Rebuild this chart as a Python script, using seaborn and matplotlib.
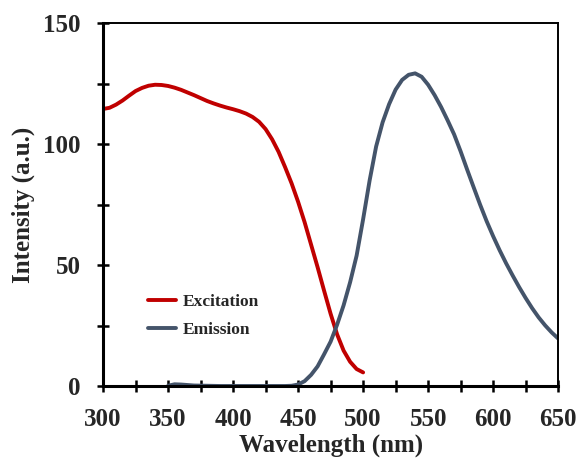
import numpy as np
import pandas as pd
import matplotlib
matplotlib.use("Agg")
import matplotlib.pyplot as plt
from matplotlib.ticker import MultipleLocator
import seaborn as sns

# --- values ---
exc_wl = [300, 305, 310, 315, 320, 325, 330, 335, 340, 345, 350, 355, 360, 365,
          370, 375, 380, 385, 390, 395, 400, 405, 410, 415, 420, 425, 430, 435,
          440, 445, 450, 455, 460, 465, 470, 475, 480, 485, 490, 495, 500]
exc_int = [114.5, 115.0, 116.3, 118.0, 120.0, 121.9, 123.2, 124.1, 124.5, 124.4,
           124.0, 123.3, 122.4, 121.3, 120.2, 119.0, 117.8, 116.8, 115.9, 115.1,
           114.4, 113.6, 112.6, 111.2, 109.2, 106.2, 102.0, 96.8, 90.5, 83.8,
           76.2, 67.8, 58.5, 49.2, 39.5, 30.0, 21.5, 14.8, 10.2, 7.2, 5.8]

em_wl = [350, 355, 360, 365, 370, 380, 390, 400, 410, 420, 430, 440,
         445, 450, 455, 460, 465, 470, 475, 480, 485, 490, 495, 500,
         505, 510, 515, 520, 525, 530, 535, 540, 545, 550, 555, 560,
         565, 570, 575, 580, 585, 590, 595, 600, 605, 610, 615, 620,
         625, 630, 635, 640, 645, 650]
em_int = [0.3, 0.9, 0.8, 0.6, 0.4, 0.3, 0.2, 0.2, 0.2, 0.2, 0.2, 0.2,
          0.3, 0.8, 2.2, 4.8, 8.3, 13.3, 18.5, 25.5, 33.5, 43.0, 54.0, 69.0,
          85.0, 99.0, 109.0, 116.5, 122.5, 126.5, 128.6, 129.2, 127.8, 124.5, 120.2, 115.3,
          109.8, 104.0, 97.0, 89.5, 82.2, 75.0, 68.2, 62.0, 56.2, 50.8, 45.8, 41.0,
          36.5, 32.3, 28.5, 25.2, 22.3, 19.8]

series_names = ["Excitation", "Emission"]
colors = {"Excitation": "#C00000", "Emission": "#44546A"}

df = pd.concat([
    pd.DataFrame({"wl": exc_wl, "val": exc_int, "series": "Excitation"}),
    pd.DataFrame({"wl": em_wl, "val": em_int, "series": "Emission"}),
])

sns.set_style("ticks")
plt.rcParams["font.family"] = ["Liberation Serif", "DejaVu Serif"]
plt.rcParams["font.weight"] = "bold"

fig = plt.figure(figsize=(5.79, 4.59), dpi=100)
ax = fig.add_axes([0.178, 0.158, 0.786, 0.792])

sns.lineplot(data=df, x="wl", y="val", hue="series", hue_order=series_names,
             palette=colors, linewidth=2.8, ax=ax, sort=True,
             solid_capstyle="round", solid_joinstyle="round")

ax.set_xlim(300, 650)
ax.set_ylim(0, 150)
ax.xaxis.set_major_locator(MultipleLocator(50))
ax.xaxis.set_minor_locator(MultipleLocator(25))
ax.yaxis.set_major_locator(MultipleLocator(50))
ax.yaxis.set_minor_locator(MultipleLocator(25))
ax.tick_params(which="both", direction="inout", length=8, width=1.8,
               labelsize=18, color="black")
ax.tick_params(axis="x", which="major", pad=11.5)
ax.tick_params(axis="y", which="major", pad=12)

for s in ["left", "bottom"]:
    ax.spines[s].set_linewidth(2.2)
for s in ["top", "right"]:
    ax.spines[s].set_linewidth(1.4)
for s in ax.spines.values():
    s.set_color("black")

ax.set_xlabel("Wavelength (nm)", fontsize=18, fontweight="bold", labelpad=2)
ax.set_ylabel("Intensity (a.u.)", fontsize=18, fontweight="bold", labelpad=6)

leg = ax.legend(loc="upper left", bbox_to_anchor=(0.099, 0.255), frameon=False,
                fontsize=12.5, handlelength=1.6, handletextpad=0.4,
                labelspacing=0.67, borderpad=0, borderaxespad=0)
for t in leg.get_texts():
    t.set_fontweight("bold")

fig.savefig("out.png", dpi=100)
